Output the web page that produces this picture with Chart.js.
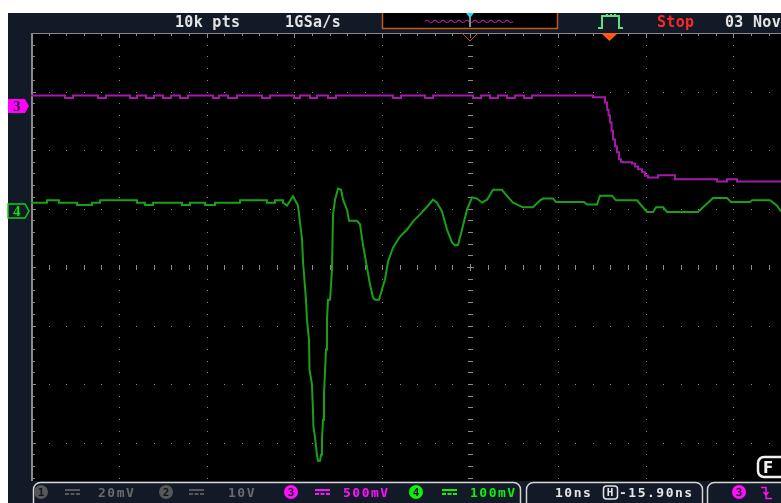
<!DOCTYPE html>
<html>
<head>
<meta charset="utf-8">
<title>Scope capture CH3 / CH4</title>
<script src="https://cdn.jsdelivr.net/npm/chart.js@4.4.1/dist/chart.umd.min.js"></script>
<style>
  html, body { margin:0; padding:0; background:#fff; overflow:hidden; }
  #wrap { position:relative; width:781px; height:503px; }
  #scope { position:absolute; left:0; top:0; }
  .t { position:absolute; font-family:'DejaVu Sans Mono', monospace; font-weight:bold; line-height:1; white-space:pre; }
  .top { font-size:15px; letter-spacing:0.3px; top:15px; }
  .bot { font-size:13px; letter-spacing:1.5px; top:486px; }
  .num { font-size:11px; width:14px; text-align:center; top:487px; color:#10151f; }
  .tag { font-family:'Liberation Serif', serif; font-size:15px; }
</style>
</head>
<body>
<div id="wrap">
  <canvas id="scope" width="781" height="503"></canvas>

  <div class="t top" style="left:175px;color:#e4e4e4">10k pts</div>
  <div class="t top" style="left:285px;color:#e4e4e4">1GSa/s</div>
  <div class="t top" style="left:657px;color:#ff2626">Stop</div>
  <div class="t top" style="left:725px;color:#e4e4e4">03 Nov</div>

  <div class="t tag" style="left:13px;top:99px;color:#2a0030">3</div>
  <div class="t tag" style="left:13px;top:204px;color:#12e012">4</div>

  <div class="t num" style="left:34px">1</div>
  <div class="t bot" style="left:98px;color:#6a6a6a">20mV</div>
  <div class="t num" style="left:159px">2</div>
  <div class="t bot" style="left:228px;color:#6a6a6a">10V</div>
  <div class="t num" style="left:284px">3</div>
  <div class="t bot" style="left:343px;color:#ff10ff">500mV</div>
  <div class="t num" style="left:409px">4</div>
  <div class="t bot" style="left:470px;color:#10f010">100mV</div>
  <div class="t bot" style="left:555px;color:#e4e4e4">10ns</div>
  <div class="t num" style="left:603px;color:#e4e4e4">H</div>
  <div class="t bot" style="left:619px;color:#e4e4e4">-15.90ns</div>
  <div class="t num" style="left:732px">3</div>

  <div class="t" style="left:763px;top:461px;font-family:'DejaVu Sans',sans-serif;font-size:15px;color:#f0f0f0">F</div>
</div>

<script>
// time axis: ns from left edge of screen (10 ns/div), visible part only
const T_MIN = -50;
const T_MAX = 35.42;
// vertical: divisions from screen centre (8 div high)
const V_MIN = -4;
const V_MAX = 4;

// channel ground markers (div)
const ch3Offset = 2.76;
const ch4Offset = 0.96;

// CH3 (magenta), stepped: each value holds until the next time
const ch3Time = [-50, -46.13, -45.22, -42.37, -41.46, -38.72, -37.93, -36.90, -35.99, -34.97, -34.05,
  -33.03, -32.12, -29.27, -28.59, -27.56, -26.54, -23.69, -22.78, -20.04, -19.36, -18.22, -17.42,
  -16.17, -15.26, -8.77, -7.86, -5.12, -4.21, 0.34, 1.26, 2.28, 3.19, 4.22, 5.13, 6.15, 7.06,
  14.01, 15.38, 15.61, 15.78, 15.95, 16.12, 16.29, 16.52, 16.74, 16.97, 17.20, 17.43, 18.45,
  18.80, 19.14, 19.59, 19.93, 20.28, 21.42, 23.35, 28.13, 29.27, 30.41, 35.42];
const ch3Div = [2.93, 2.89, 2.93, 2.89, 2.93, 2.89, 2.93, 2.89, 2.93, 2.89, 2.93,
  2.89, 2.93, 2.89, 2.93, 2.89, 2.93, 2.89, 2.93, 2.89, 2.93, 2.89, 2.93,
  2.89, 2.93, 2.89, 2.93, 2.89, 2.93, 2.89, 2.93, 2.89, 2.93, 2.89, 2.93, 2.89, 2.93,
  2.90, 2.81, 2.69, 2.59, 2.47, 2.33, 2.18, 2.06, 1.96, 1.84, 1.80, 1.79, 1.77,
  1.72, 1.67, 1.62, 1.56, 1.53, 1.57, 1.50, 1.46, 1.50, 1.46, 1.46];

// CH4 (green)
const ch4Time = [-50, -48.18, -48.18, -46.81, -46.81, -44.76, -44.76, -43.05, -43.05, -42.14, -42.14,
  -37.93, -37.93, -37.02, -37.02, -36.10, -36.10, -32.80, -32.80, -31.89, -31.89, -30.18, -30.18,
  -29.04, -29.04, -26.19, -26.19, -23.12, -23.12, -22.21, -22.21, -21.30, -21.30, -20.84, -20.16, -19.70,
  -19.59, -19.13, -19.02, -18.68, -18.57, -18.34, -18.28, -18.00, -17.89, -17.83, -17.66, -17.43,
  -17.31, -17.08, -16.97, -16.86, -16.74, -16.63, -16.40, -16.29, -16.17, -15.94, -15.72, -15.60,
  -15.37, -15.03, -14.69, -14.46, -14.01, -13.78, -12.87, -12.53, -12.19, -11.73, -11.39, -11.05,
  -10.82, -10.36, -10.02, -9.68, -9.34, -8.77, -7.97, -7.17, -6.49, -5.69, -4.90, -4.21, -3.76,
  -3.19, -2.62, -2.05, -1.71, -1.36, -0.91, -0.34, 0.23, 0.80, 1.37, 1.94, 2.62, 3.65, 4.22, 4.90,
  6.04, 7.18, 7.98, 8.32, 9.46, 9.80, 12.99, 13.33, 14.47, 14.81, 16.18, 16.63, 19.02, 20.16,
  20.85, 21.19, 21.99, 22.44, 25.97, 27.68, 29.27, 29.73, 31.89, 32.12, 34.17, 34.97, 35.42];
const ch4Div = [1.10, 1.10, 1.14, 1.14, 1.10, 1.10, 1.06, 1.06, 1.10, 1.10, 1.14,
  1.14, 1.10, 1.10, 1.06, 1.06, 1.10, 1.10, 1.06, 1.06, 1.10, 1.10, 1.06,
  1.06, 1.10, 1.10, 1.14, 1.14, 1.10, 1.10, 1.14, 1.14, 1.10, 1.05, 1.21, 1.08,
  1.05, 0.47, 0.09, -0.56, -0.90, -1.24, -1.75, -2.01, -2.44, -2.73, -2.90, -3.21,
  -3.31, -3.31, -3.21, -2.95, -2.61, -2.18, -1.41, -0.90, -0.56, -0.56, -0.04, 0.90,
  1.15, 1.34, 1.32, 1.15, 0.98, 0.79, 0.79, 0.73, 0.38, -0.01, -0.30, -0.52,
  -0.56, -0.56, -0.38, -0.21, 0.09, 0.33, 0.52, 0.64, 0.78, 0.90, 1.03, 1.15, 1.10,
  0.95, 0.64, 0.42, 0.37, 0.38, 0.64, 0.98, 1.19, 1.17, 1.10, 1.15, 1.32, 1.32, 1.21, 1.10,
  1.02, 1.02, 1.14, 1.17, 1.17, 1.11, 1.11, 1.07, 1.07, 1.22, 1.22, 1.14, 1.14, 0.94,
  0.94, 1.02, 1.02, 0.94, 0.94, 1.18, 1.18, 1.11, 1.11, 1.14, 1.14, 1.05, 0.95];

const NAVY = '#121927';
const GRID = '#8a8a8a';

function circle(ctx, x, y, r, col) {
  ctx.fillStyle = col;
  ctx.beginPath(); ctx.arc(x, y, r, 0, Math.PI * 2); ctx.fill();
}

function dcMark(ctx, x, y, col) {
  ctx.fillStyle = col;
  ctx.fillRect(x, y, 15, 2);
  ctx.fillRect(x, y + 4, 4, 2);
  ctx.fillRect(x + 5.5, y + 4, 4, 2);
  ctx.fillRect(x + 11, y + 4, 4, 2);
}

const scopeFrame = {
  id: 'scopeFrame',
  beforeDraw(chart) {
    const ctx = chart.ctx, a = chart.chartArea;
    const X = chart.scales.x, Y = chart.scales.y;
    ctx.save();
    ctx.fillStyle = '#fff'; ctx.fillRect(0, 0, chart.width, chart.height);
    ctx.fillStyle = NAVY; ctx.fillRect(8, 13, chart.width - 8, chart.height - 13);
    ctx.fillStyle = '#000'; ctx.fillRect(a.left, a.top, a.right - a.left, a.bottom - a.top);

    ctx.fillStyle = GRID;
    // dotted vertical division lines
    for (let k = 1; k <= 9; k++) {
      const px = Math.round(X.getPixelForValue(T_MIN + k * 10));
      if (px > a.right) break;
      for (let m = 1; m < 40; m++) {
        const py = Math.round(Y.getPixelForValue(V_MAX - m * 0.2));
        if (k === 5) ctx.fillRect(px - 2, py, 5, 1);
        else ctx.fillRect(px, py, 1, 1);
      }
    }
    // dotted horizontal division lines
    for (let j = 1; j <= 7; j++) {
      const py = Math.round(Y.getPixelForValue(V_MAX - j));
      for (let m = 1; m < 50; m++) {
        const px = Math.round(X.getPixelForValue(T_MIN + m * 2));
        if (px > a.right) break;
        if (j === 4) ctx.fillRect(px, py - 2, 1, 5);
        else ctx.fillRect(px, py, 1, 1);
      }
    }
    // centre cross
    const cx = Math.round(X.getPixelForValue(0)), cy = Math.round(Y.getPixelForValue(0));
    ctx.fillRect(cx - 3, cy, 7, 1); ctx.fillRect(cx, cy - 3, 1, 7);

    // border + ticks
    ctx.fillRect(a.left, a.top, a.right - a.left, 1);
    ctx.fillRect(a.left, a.top, 2, a.bottom - a.top);
    for (let m = 1; m < 50; m++) {
      const px = Math.round(X.getPixelForValue(T_MIN + m * 2));
      if (px > a.right) break;
      ctx.fillRect(px, a.top, 1, m % 5 === 0 ? 5 : 3);
    }
    for (let m = 1; m < 40; m++) {
      const py = Math.round(Y.getPixelForValue(V_MAX - m * 0.2));
      ctx.fillRect(a.left, py, m % 5 === 0 ? 5 : 4, 1);
    }
    ctx.restore();
  },
  afterDraw(chart) {
    const ctx = chart.ctx, a = chart.chartArea;
    const X = chart.scales.x, Y = chart.scales.y;
    ctx.save();

    // overview window
    ctx.fillStyle = '#000'; ctx.fillRect(382, 13, 176, 16);
    ctx.strokeStyle = '#c2581e'; ctx.lineWidth = 1.5;
    ctx.beginPath(); ctx.moveTo(382.5, 13); ctx.lineTo(382.5, 28.5); ctx.lineTo(557.5, 28.5); ctx.lineTo(557.5, 13); ctx.stroke();
    ctx.strokeStyle = '#b418b8'; ctx.lineWidth = 1.2;
    ctx.beginPath();
    for (let i = 0; i < 11; i++) {
      const x0 = 425 + i * 8;
      ctx.moveTo(x0, 21.5);
      ctx.quadraticCurveTo(x0 + 2, 19, x0 + 4, 21.5);
      ctx.quadraticCurveTo(x0 + 6, 24, x0 + 8, 21.5);
    }
    ctx.stroke();
    ctx.fillStyle = '#8a8a8a'; ctx.fillRect(469, 16, 2, 11);
    ctx.fillStyle = '#22d4f4';
    ctx.beginPath(); ctx.moveTo(466, 13); ctx.lineTo(474, 13); ctx.lineTo(470, 18); ctx.closePath(); ctx.fill();

    // trigger type icon
    ctx.strokeStyle = '#5ee07e'; ctx.lineWidth = 2;
    ctx.beginPath();
    ctx.moveTo(598, 28); ctx.lineTo(602, 28); ctx.lineTo(602, 16); ctx.lineTo(619, 16); ctx.lineTo(619, 28); ctx.lineTo(623, 28);
    ctx.moveTo(607, 16); ctx.lineTo(607, 14); ctx.moveTo(611, 16); ctx.lineTo(611, 14); ctx.moveTo(615, 16); ctx.lineTo(615, 14);
    ctx.stroke();

    // trigger / centre markers on top edge
    ctx.fillStyle = '#ff5a12';
    ctx.beginPath(); ctx.moveTo(601, a.top); ctx.lineTo(618, a.top); ctx.lineTo(609.5, a.top + 8); ctx.closePath(); ctx.fill();
    const cx = X.getPixelForValue(0);
    ctx.strokeStyle = '#c2501a'; ctx.lineWidth = 1;
    ctx.beginPath(); ctx.moveTo(cx - 8, a.top); ctx.lineTo(cx, a.top + 8); ctx.lineTo(cx + 8, a.top); ctx.stroke();

    // channel ground tags
    const y3 = Math.round(Y.getPixelForValue(ch3Offset));
    ctx.fillStyle = '#ff00ff';
    ctx.beginPath(); ctx.moveTo(8, y3 - 7); ctx.lineTo(25, y3 - 7); ctx.lineTo(29, y3); ctx.lineTo(25, y3 + 7); ctx.lineTo(8, y3 + 7); ctx.closePath(); ctx.fill();
    const y4 = Math.round(Y.getPixelForValue(ch4Offset));
    ctx.fillStyle = NAVY; ctx.strokeStyle = '#12d012'; ctx.lineWidth = 1.5;
    ctx.beginPath(); ctx.moveTo(8, y4 - 7); ctx.lineTo(25, y4 - 7); ctx.lineTo(29, y4); ctx.lineTo(25, y4 + 7); ctx.lineTo(8, y4 + 7); ctx.closePath(); ctx.fill(); ctx.stroke();

    // "F" badge
    ctx.fillStyle = '#000'; ctx.strokeStyle = '#f0f0f0'; ctx.lineWidth = 2.5;
    ctx.beginPath(); ctx.roundRect(758, 457, 30, 20, 6); ctx.fill(); ctx.stroke();

    // bottom status bar
    ctx.fillStyle = NAVY; ctx.fillRect(8, 481, chart.width - 8, chart.height - 481);
    ctx.strokeStyle = '#d4d4d4'; ctx.lineWidth = 1.5;
    ctx.beginPath(); ctx.roundRect(33.5, 482.5, 487, 30, 7); ctx.stroke();
    ctx.beginPath(); ctx.roundRect(526.5, 482.5, 176, 30, 7); ctx.stroke();
    ctx.beginPath(); ctx.roundRect(707.5, 482.5, 100, 30, 7); ctx.stroke();

    circle(ctx, 41, 492, 7, '#575757');
    dcMark(ctx, 65, 489, '#575757');
    circle(ctx, 166, 492, 7, '#575757');
    dcMark(ctx, 189, 489, '#575757');
    circle(ctx, 291, 492, 7, '#ff10ff');
    dcMark(ctx, 315, 489, '#ff10ff');
    circle(ctx, 416, 492, 7, '#10f010');
    dcMark(ctx, 442, 489, '#10f010');
    circle(ctx, 739, 492, 7, '#ff10ff');

    ctx.strokeStyle = '#e4e4e4'; ctx.lineWidth = 1.5;
    ctx.beginPath(); ctx.roundRect(603.5, 486, 14, 13, 3); ctx.stroke();

    ctx.strokeStyle = '#ff10ff'; ctx.lineWidth = 1.5;
    ctx.beginPath();
    ctx.moveTo(761, 487.5); ctx.lineTo(766, 487.5); ctx.lineTo(766, 498.5); ctx.lineTo(772, 498.5);
    ctx.moveTo(763.5, 492); ctx.lineTo(766, 495); ctx.lineTo(768.5, 492);
    ctx.stroke();

    ctx.restore();
  }
};

new Chart(document.getElementById('scope'), {
  type: 'line',
  data: {
    datasets: [
      { label: 'CH3', data: ch3Time.map((t, i) => ({ x: t, y: ch3Div[i] })),
        borderColor: '#a51aa8', borderWidth: 2, pointRadius: 0, stepped: 'before' },
      { label: 'CH4', data: ch4Time.map((t, i) => ({ x: t, y: ch4Div[i] })),
        borderColor: '#18a018', borderWidth: 2, pointRadius: 0 }
    ]
  },
  options: {
    responsive: false,
    animation: false,
    devicePixelRatio: 1,
    layout: { padding: { left: 31, top: 33, right: 0, bottom: 2 } },
    scales: {
      x: { type: 'linear', min: T_MIN, max: T_MAX, display: false },
      y: { min: V_MIN, max: V_MAX, display: false }
    },
    plugins: { legend: { display: false }, tooltip: { enabled: false } }
  },
  plugins: [scopeFrame]
});
</script>
</body>
</html>
